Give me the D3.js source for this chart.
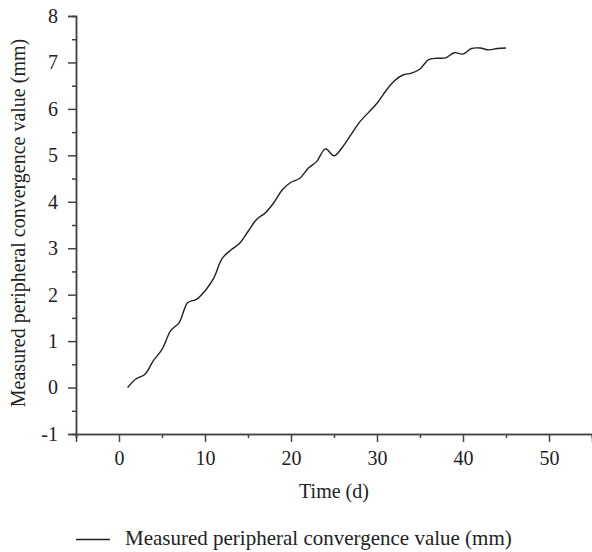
<!DOCTYPE html>
<html>
<head>
<meta charset="utf-8">
<script src="https://cdn.jsdelivr.net/npm/d3@7"></script>
<style>
  body { margin: 0; background: #fff; }
  text { font-family: "Liberation Serif", "DejaVu Serif", serif; fill: #222; }
</style>
</head>
<body>
<div id="chart"></div>
<script>
// measured data, one value per day
var days = d3.range(1, 46);
var convergence = [
    0.00, 0.19, 0.28, 0.58, 0.82, 1.22, 1.40, 1.83, 1.90, 2.08,
    2.35, 2.78, 2.96, 3.10, 3.36, 3.62, 3.76, 3.98, 4.26, 4.42,
    4.50, 4.72, 4.87, 5.14, 4.99, 5.18, 5.45, 5.72, 5.92, 6.12,
    6.38, 6.60, 6.73, 6.77, 6.86, 7.06, 7.09, 7.10, 7.21, 7.18,
    7.30, 7.31, 7.27, 7.30, 7.31
];
var xTicks = [0, 10, 20, 30, 40, 50];
var yTicks = [-1, 0, 1, 2, 3, 4, 5, 6, 7, 8];
var seriesName = "Measured peripheral convergence value (mm)";

var w = 592, h = 552;
var plotLeft = 76, plotRight = 592, plotTop = 16, plotBottom = 434;

var svg = d3.select("#chart").append("svg")
    .attr("width", w)
    .attr("height", h);

var x = d3.scaleLinear().domain([-5, 55]).range([plotLeft, plotRight]);
var y = d3.scaleLinear().domain([-1, 8]).range([plotBottom, plotTop]);

var data = days.map(function(d, i) { return { day: d, value: convergence[i] }; });

// minor ticks first, then major ticks with labels
var xMinor = d3.axisBottom(x).tickValues(d3.range(-5, 56, 10)).tickSize(4).tickFormat("");
var yMinor = d3.axisLeft(y).tickValues(d3.range(-0.5, 8, 1)).tickSize(4).tickFormat("");

svg.append("g").attr("transform", "translate(0," + plotBottom + ")").call(xMinor);
svg.append("g").attr("transform", "translate(" + plotLeft + ",0)").call(yMinor);

var plainFormat = function(d) { return String(d); };   // keeps "-1" with a hyphen
var xAxis = d3.axisBottom(x).tickValues(xTicks).tickSize(8).tickPadding(9).tickFormat(plainFormat);
var yAxis = d3.axisLeft(y).tickValues(yTicks).tickSize(8).tickPadding(10).tickFormat(plainFormat);

svg.append("g").attr("class", "xaxis").attr("transform", "translate(0," + plotBottom + ")").call(xAxis);
svg.append("g").attr("class", "yaxis").attr("transform", "translate(" + plotLeft + ",0)").call(yAxis);

svg.selectAll(".domain").attr("stroke", "#444").attr("stroke-width", 1.5);
svg.selectAll(".tick line").attr("stroke", "#444").attr("stroke-width", 1.5);
svg.selectAll(".tick text")
    .style("font-family", '"Liberation Serif", serif')
    .style("font-size", "20px")
    .attr("fill", "#222");

var line = d3.line()
    .x(function(d) { return x(d.day); })
    .y(function(d) { return y(d.value); })
    .curve(d3.curveCatmullRom);

svg.append("path")
    .datum(data)
    .attr("fill", "none")
    .attr("stroke", "#222")
    .attr("stroke-width", 1.4)
    .attr("d", line);

// axis titles
svg.append("text")
    .attr("x", (plotLeft + plotRight) / 2)
    .attr("y", 498)
    .attr("text-anchor", "middle")
    .style("font-size", "20px")
    .text("Time (d)");

svg.append("text")
    .attr("transform", "translate(25," + ((plotTop + plotBottom) / 2 - 2) + ") rotate(-90)")
    .attr("text-anchor", "middle")
    .style("font-size", "20px")
    .text(seriesName);

// legend
svg.append("line")
    .attr("x1", 76).attr("x2", 110)
    .attr("y1", 539.5).attr("y2", 539.5)
    .attr("stroke", "#222").attr("stroke-width", 1.4);

svg.append("text")
    .attr("x", 125)
    .attr("y", 545)
    .style("font-size", "21px")
    .text(seriesName);
</script>
</body>
</html>
